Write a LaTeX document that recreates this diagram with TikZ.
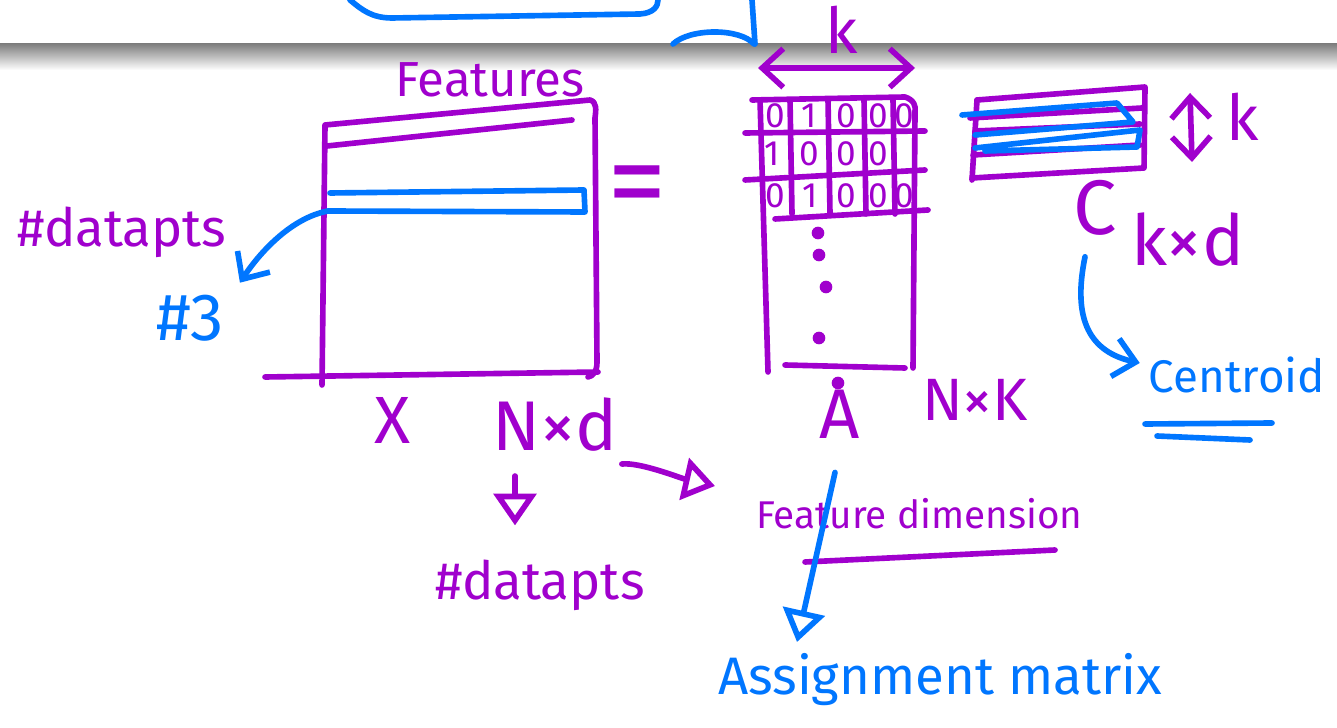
\documentclass[tikz,border=0pt]{standalone}
\usepackage{fontspec}
\setmainfont{Fira Sans}
\usetikzlibrary{arrows.meta,positioning,calc}
\definecolor{penpurple}{RGB}{160,0,205}
\definecolor{penblue}{RGB}{0,118,255}
\tikzset{
    ink/.style={line width=1.6pt, line cap=round, line join=round},
    pp/.style={ink, penpurple},
    pb/.style={ink, penblue},
    hand/.style={inner sep=1pt, text=penpurple},
    bluehand/.style={inner sep=1pt, text=penblue},
    barb/.style={-{Straight Barb[length=6pt,width=11pt]}},
    tri/.style={-{Triangle[open,length=9pt,width=12pt,line width=1.6pt]}},
}

\begin{document}
\begin{tikzpicture}[x=0.01cm,y=-0.01cm]
    % Canvas
    \useasboundingbox (0,0) rectangle (1337,728);
    \fill[white] (0,0) rectangle (1337,728);
    % Page break
    \shade[top color=black!50, bottom color=white] (0,44) rectangle (1337,70);
    % Leftovers from previous page
    \draw[pb] (350,0) .. controls (362,10) and (372,18) .. (392,18) -- (640,14) .. controls (654,13) and (658,6) .. (658,0);
    \draw[pb] (752,0) -- (755,44);
    \draw[pb] (673,44) .. controls (690,28) and (740,28) .. (754,44);

    % Data matrix X
    \draw[pp] (322,385) -- (325,125) -- (590,100) .. controls (597,102) and (596,110) .. (595,118) -- (597,362) .. controls (597,372) and (593,376) .. (588,377);
    \draw[pp] (265,377) -- (598,372);
    \draw[pp] (327,146) -- (572,120);
    % Selected row
    \draw[pb] (330,193) -- (584,190) -- (585,212) -- (328,211);
    \coordinate (xrow) at (328,211);
    \node[hand, font=\fontsize{14}{16}\selectfont] (feat) at (490,80) {Features};
    \node[hand, font=\fontsize{15}{17}\selectfont] (pts) at (122,232) {\#datapts};
    \node[bluehand, font=\fontsize{19}{21}\selectfont] (three) at (190,318) {\#3};
    \draw[pb, barb] (xrow) .. controls (290,218) and (258,255) .. ([shift={(12,-8)}]three.north east);
    \node[hand, font=\fontsize{19}{19}\selectfont] (xlab) at (393,420) {X};
    \node[hand, font=\fontsize{20}{22}\selectfont] (nxd) at (555,425) {N×d};

    % Equals
    \node[hand, font=\fontsize{34}{34}\selectfont] (eq) at (637,194) {=};

    % Assignment matrix A
    \draw[pp] (760,100) -- (768,372);
    \draw[pp] (752,100) -- (905,97) .. controls (914,100) and (916,106) .. (915,112) -- (913,368);
    \draw[pp] (785,365) -- (905,368);
    \draw[pp] (745,133) -- (925,131);
    \draw[pp] (745,180) -- (925,170);
    \draw[pp] (775,219) -- (928,210);
    \foreach \cx in {790,828,864,893}
        \draw[pp] (\cx,100) -- (\cx+2,214);
    \foreach \cx/\v in {775/0,809/1,846/0,878/0,904/0}
        \node[hand, font=\fontsize{10}{10}\selectfont] at (\cx,116) {\v};
    \foreach \cx/\v in {772/1,809/0,846/0,878/0}
        \node[hand, font=\fontsize{10}{10}\selectfont] at (\cx,154) {\v};
    \foreach \cx/\v in {775/0,810/1,846/0,878/0,904/0}
        \node[hand, font=\fontsize{10}{10}\selectfont] at (\cx,196) {\v};
    \foreach \dx/\dy in {818/233,819/255,826/287,819/338,838/383}
        \fill[penpurple] (\dx,\dy) circle (1.8pt);
    % Width k
    \coordinate (kl) at (758,68);
    \coordinate (kr) at (915,68);
    \draw[pp, {Straight Barb[length=6pt,width=11pt]}-{Straight Barb[length=6pt,width=11pt]}] (kl) -- (kr);
    \node[hand, font=\fontsize{18}{18}\selectfont] (ktop) at (842,30) {k};
    \node[hand, font=\fontsize{20}{22}\selectfont] (alab) at (840,414) {A};
    \node[hand, font=\fontsize{17}{19}\selectfont] (ank) at (975,400) {N×K};

    % Centroid matrix C
    \draw[pp] (977,100) -- (972,180);
    \draw[pp] (977,100) -- (1145,87) -- (1144,168) -- (972,178);
    \draw[pp] (970,118) -- (1142,108);
    \draw[pp] (975,131) -- (1140,124);
    \draw[pp] (973,155) -- (1140,145);
    \draw[pb] (962,115) -- (1117,103) -- (1133,122) -- (975,135);
    \draw[pb] (975,148) -- (1140,130) -- (1137,147) -- (985,151);
    % Height k
    \coordinate (kt) at (1190,93);
    \coordinate (kb) at (1192,162);
    \draw[pp, {Straight Barb[length=6pt,width=11pt]}-{Straight Barb[length=6pt,width=11pt]}] (kt) -- (kb);
    \node[hand, font=\fontsize{18}{18}\selectfont] (kside) at (1243,117) {k};
    \node[hand, font=\fontsize{22}{22}\selectfont] (clab) at (1095,208) {C};
    \node[hand, font=\fontsize{20}{22}\selectfont] (ckd) at (1188,240) {k×d};

    % Annotations
    \node[hand, anchor=west, font=\fontsize{11}{13}\selectfont] (fdim) at (752,514) {Feature dimension};
    \draw[pp] (805,562) -- (1055,550);
    \node[hand, font=\fontsize{15}{17}\selectfont] (pts2) at (540,585) {\#datapts};
    \node[bluehand, font=\fontsize{15}{17}\selectfont] (amat) at (940,680) {Assignment matrix};
    \node[bluehand, font=\fontsize{13}{15}\selectfont] (cent) at (1237,375) {Centroid};
    \draw[pb] (1145,424) -- (1272,423);
    \draw[pb] (1157,436) -- (1250,440);

    % Arrows
    \draw[pp, tri] ([shift={(-40,20)}]nxd.south) -- ([shift={(-25,-30)}]pts2.north);
    \draw[pp, tri] ([shift={(0,8)}]nxd.south east) .. controls (640,462) and (680,478) .. ([shift={(-37,-28)}]fdim.west);
    \draw[pb, tri] ([shift={(-5,30)}]alab.south) -- (797,642);
    \draw[pb, barb] ([shift={(-10,17)}]clab.south) .. controls (1072,320) and (1090,352) .. ([shift={(-5,-12)}]cent.west);
\end{tikzpicture}
\end{document}
